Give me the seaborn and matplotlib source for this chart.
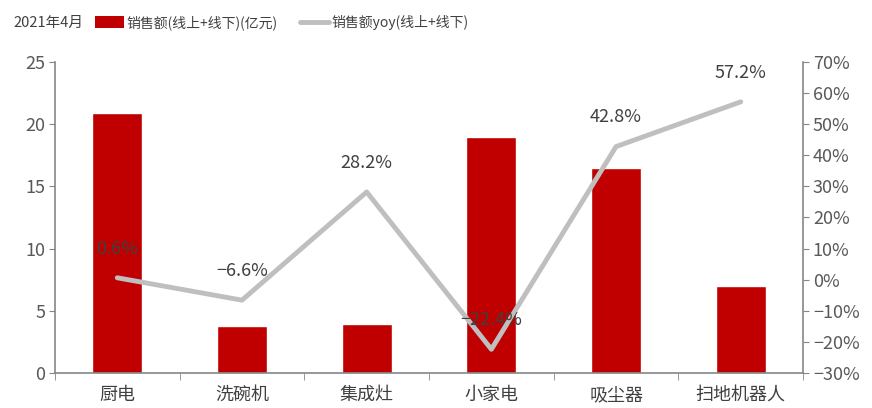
import numpy as np
import pandas as pd
import seaborn as sns
import matplotlib
matplotlib.use('Agg')
import matplotlib.pyplot as plt
from matplotlib.patches import Patch
from matplotlib.lines import Line2D
from matplotlib.ticker import FuncFormatter

categories = ['厨电', '洗碗机', '集成灶', '小家电', '吸尘器', '扫地机器人']
sales = [20.9, 3.75, 3.9, 18.95, 16.5, 6.95]
yoy = [0.6, -6.6, 28.2, -22.4, 42.8, 57.2]
yoy_labels = ['0.6%', '−6.6%', '28.2%', '−22.4%', '42.8%', '57.2%']

RED = '#C00000'
GREY = '#BFBFBF'
AXIS = '#868686'
TEXT = '#595959'

sns.set_style('white')
plt.rcParams['font.family'] = ['Noto Sans CJK SC', 'DejaVu Sans']
plt.rcParams['axes.unicode_minus'] = True

fig = plt.figure(figsize=(8.72, 4.08), dpi=100)
ax = fig.add_axes([0.063, 0.086, 0.858, 0.762])

df = pd.DataFrame({'cat': categories, 'sales': sales})
sns.barplot(data=df, x='cat', y='sales', color=RED, saturation=1, width=0.4, ax=ax)
ax.set_xlim(-0.5, 5.5)
ax.set_ylim(0, 25)
ax.set_yticks(range(0, 26, 5))
ax.set_xlabel('')
ax.set_ylabel('')

ax2 = ax.twinx()
sns.lineplot(x=np.arange(len(yoy)), y=yoy, color=GREY, linewidth=3.5, ax=ax2)
ax2.set_ylim(-30, 70)
ax2.set_yticks(range(-30, 71, 10))
ax2.yaxis.set_major_formatter(FuncFormatter(lambda v, p: f'{int(v)}%'.replace('-', '−')))
ax2.set_xlim(-0.5, 5.5)

for i, (v, lab) in enumerate(zip(yoy, yoy_labels)):
    ax2.annotate(lab, (i, v), xytext=(0, 21), textcoords='offset points',
                 ha='center', va='center', fontsize=13, color='#404040')

for a in (ax, ax2):
    a.spines['top'].set_visible(False)
    for s in ('left', 'right', 'bottom'):
        a.spines[s].set_color(AXIS)
        a.spines[s].set_linewidth(1.2)
ax.spines['right'].set_visible(False)
ax2.spines['left'].set_visible(False)
ax2.spines['bottom'].set_visible(False)

ax.tick_params(axis='y', left=True, length=4, color=AXIS, labelsize=13, labelcolor=TEXT, pad=3)
ax.tick_params(axis='x', bottom=False, labelsize=13, labelcolor='#404040', pad=6)
ax.set_xticks(np.arange(-0.5, 6, 1), minor=True)
ax.tick_params(axis='x', which='minor', bottom=True, length=5, color=AXIS)
ax2.tick_params(axis='y', right=True, length=4, color=AXIS, labelsize=13, labelcolor=TEXT, pad=3)

fig.text(0.015, 0.945, '2021年4月', fontsize=10.5, color='#404040', va='center')
handles = [Patch(facecolor=RED, edgecolor='none'),
           Line2D([0], [0], color=GREY, linewidth=3.5)]
fig.legend(handles, ['销售额(线上+线下)(亿元)', '销售额yoy(线上+线下)'],
           loc='center left', bbox_to_anchor=(0.098, 0.945), ncol=2, frameon=False,
           fontsize=10, labelcolor='#404040', handlelength=2.1, handletextpad=0.15,
           handleheight=0.9, columnspacing=1.6, borderpad=0.2)

fig.savefig('out.png', dpi=100)
